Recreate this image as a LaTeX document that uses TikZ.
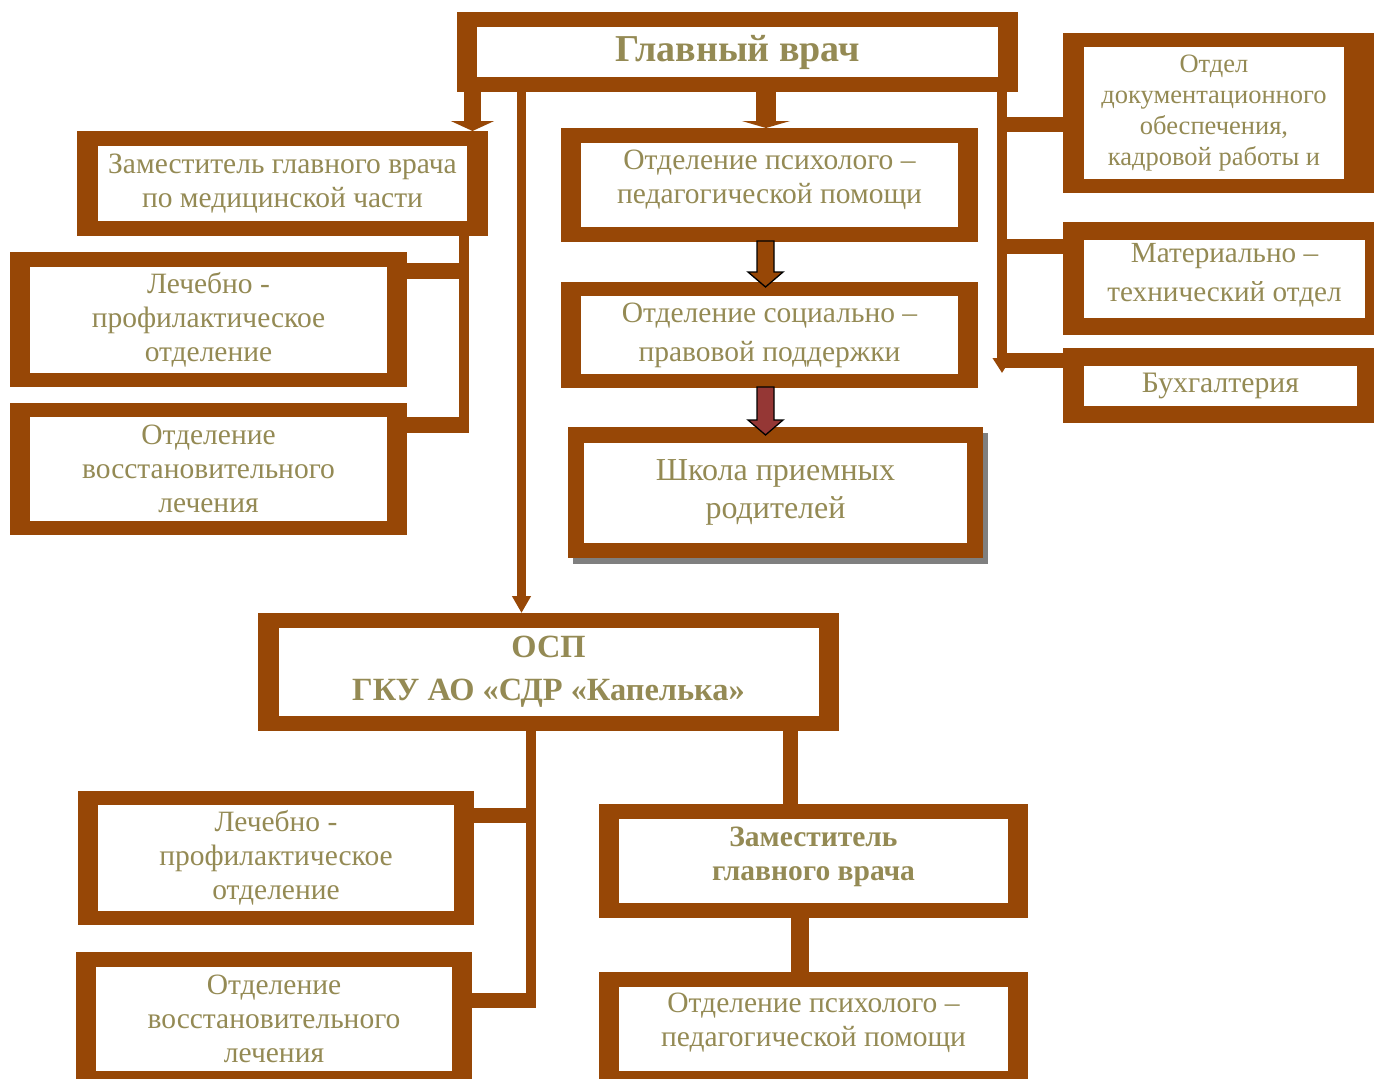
\documentclass[tikz,border=0pt]{standalone}
\usepackage{fontspec}
\setmainfont{Liberation Serif}
\usetikzlibrary{arrows.meta,shadows}

\definecolor{framebrown}{HTML}{974706}
\definecolor{txtolive}{HTML}{948A54}
\definecolor{arrowred}{HTML}{953735}
\definecolor{shadowgray}{HTML}{7F7F7F}

\tikzset{
	border/.code 2 args={\def\bx{#1}\def\by{#2}},
	panel/.style={border={20pt}{15pt}, fill=framebrown, inner sep=0pt, outer sep=0pt, align=center, text=txtolive,
		path picture={\fill[white] ([xshift=\bx,yshift=-\by]path picture bounding box.north west) rectangle ([xshift=-\bx,yshift=\by]path picture bounding box.south east);}},
	fs/.style 2 args={font=\fontsize{#1pt}{#2pt}\selectfont},
	link/.style={draw=framebrown, line width=10pt},
	spur/.style={draw=framebrown, line width=15pt},
	blockarrow/.style={draw=black, line width=1.3pt, line join=miter},
}

\begin{document}
\begin{tikzpicture}[x=1pt, y=-1pt]
	\useasboundingbox (0,0) rectangle (1374,1079);
	\clip (0,0) rectangle (1374,1079);
	\fill[white] (0,0) rectangle (1374,1079);

	% Top row
	\node[panel, fs={38}{46}, minimum width=561pt, minimum height=80pt] (chief) at (737.5,52) {\textbf{Главный врач}};

	% Left branch
	\node[panel, fs={29.5}{34}, border={21pt}{15pt}, minimum width=411pt, minimum height=105pt] (deputymed) at (282.5,183.5) {Заместитель главного врача\\по медицинской части};
	\node[panel, fs={29.5}{34}, border={20pt}{14.5pt}, minimum width=397pt, minimum height=135pt] (therapyA) at (208.5,319.5) {Лечебно -\\профилактическое\\отделение};
	\node[panel, fs={29.5}{34}, border={20pt}{14pt}, minimum width=397pt, minimum height=132pt] (rehabA) at (208.5,469) {Отделение\\восстановительного\\лечения};

	% Middle column
	\node[panel, fs={29.5}{34}, text depth=17pt, minimum width=417pt, minimum height=114pt] (psychA) at (769.5,185) {Отделение психолого –\\педагогической помощи};
	\node[panel, fs={29.5}{39}, border={20pt}{14pt}, minimum width=417pt, minimum height=106pt] (social) at (769.5,335) {Отделение социально –\\правовой поддержки};
	\node[panel, fs={32}{38}, border={16pt}{15.5pt}, minimum width=415pt, minimum height=131pt,
		drop shadow={shadow xshift=5pt, shadow yshift=-6pt, fill=shadowgray, opacity=1}] (school) at (775.5,492.5) {Школа приемных\\родителей};

	% Right column
	\node[panel, fs={26.5}{31}, border={21pt}{14pt}, minimum width=302pt, minimum height=160pt] (records) at (1214,113) {Отдел\\документационного\\обеспечения,\\кадровой работы и};
	\fill[framebrown] (records.north east) rectangle ([xshift=10pt]records.south east);
	\node[panel, fs={29.2}{39}, text depth=12pt, border={21pt}{17.5pt}, minimum width=323pt, minimum height=113pt] (supply) at (1224.5,278.5) {Материально –\\технический отдел};
	\node[panel, fs={29.7}{34}, border={21pt}{17.5pt}, minimum width=315pt, minimum height=75pt] (accounts) at (1220.5,385.5) {Бухгалтерия};

	% Branch office
	\node[panel, fs={32.4}{43}, border={20.5pt}{15pt}, minimum width=581pt, minimum height=118pt] (branch) at (548.5,672) {\textbf{ОСП}\\\textbf{ГКУ АО «СДР «Капелька»}};
	\node[panel, fs={29.5}{34}, border={20pt}{14pt}, minimum width=396pt, minimum height=134pt] (therapyB) at (276,858) {Лечебно -\\профилактическое\\отделение};
	\node[panel, fs={29.5}{34}, minimum width=396pt, minimum height=134pt] (rehabB) at (274,1019) {Отделение\\восстановительного\\лечения};
	\node[panel, fs={29.5}{34}, text depth=14pt, minimum width=429pt, minimum height=114pt] (deputy) at (813.5,861) {\textbf{Заместитель}\\\textbf{главного врача}};
	\node[panel, fs={29.5}{34}, text depth=18pt, minimum width=429pt, minimum height=114pt] (psychB) at (813.5,1029) {Отделение психолого –\\педагогической помощи};

	% Connectors from the chief
	\draw[framebrown, line width=17pt, -{Triangle[width=43pt,length=10pt]}] (chief.south -| 472.5,0) -- (472.5,0 |- deputymed.north);
	\draw[framebrown, line width=20pt, -{Triangle[width=48pt,length=7pt]}] (chief.south -| 766,0) -- (766,0 |- psychA.north);
	\draw[link, line width=9pt, -{Triangle[width=18pt,length=17pt]}] (chief.south -| 521.5,0) -- (521.5,0 |- branch.north);
	\draw[link, -{Triangle[width=18pt,length=15pt]}] (chief.south -| 1002,0) -- (1002,373);
	\draw[spur] (1002,124) -- (records.west |- 0,124);
	\draw[spur] (1002,246) -- (supply.west |- 0,246);
	\draw[spur] (1002,360) -- (accounts.west |- 0,360);

	% Medical deputy
	\draw[link] (deputymed.south -| 464,0) -- (464,433);
	\draw[spur, line width=16pt] (therapyA.east |- 0,271) -- (469,271);
	\draw[spur, line width=16pt] (rehabA.east |- 0,425) -- (469,425);

	% Block arrows
	\draw[blockarrow, fill=framebrown] ([xshift=-4pt,yshift=1pt]psychA.south) ++(-8.5,0) -- ++(17,0) -- ++(0,31) -- ++(9,0) -- ++(-17.5,15) -- ++(-17.5,-15) -- ++(9,0) -- cycle;
	\draw[blockarrow, fill=arrowred] ([xshift=-4pt,yshift=1pt]social.south) ++(-8.5,0) -- ++(17,0) -- ++(0,33) -- ++(9,0) -- ++(-17.5,15) -- ++(-17.5,-15) -- ++(9,0) -- cycle;

	% Branch office
	\draw[link] (branch.south -| 531,0) -- (531,1008);
	\draw[spur] (therapyB.east |- 0,815) -- (536,815);
	\draw[spur] (rehabB.east |- 0,1000) -- (536,1000);
	\draw[link, line width=15pt] (branch.south -| 790.5,0) -- (790.5,0 |- deputy.north);
	\draw[link, line width=18pt] (deputy.south -| 800,0) -- (800,0 |- psychB.north);
\end{tikzpicture}
\end{document}
